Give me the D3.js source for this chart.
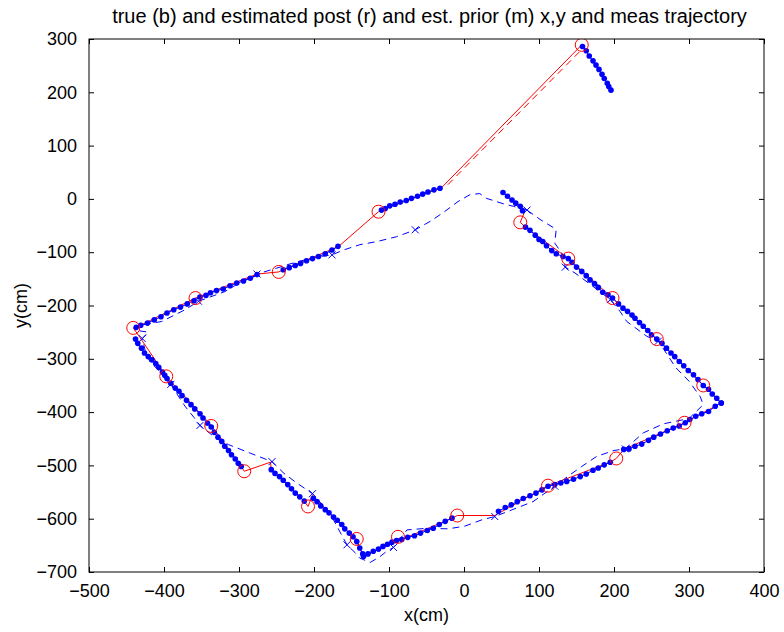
<!DOCTYPE html>
<html>
<head>
<meta charset="utf-8">
<script src="https://cdn.jsdelivr.net/npm/d3@7/dist/d3.min.js"></script>
<style>
  body { margin: 0; background: #fff; }
  svg text { font-family: "Liberation Sans", Arial, Helvetica, sans-serif; fill: #000; }
</style>
</head>
<body>
<svg id="chart" width="784" height="632"></svg>
<script>
// ---- axis ticks ----
const xTicks = [-500, -400, -300, -200, -100, 0, 100, 200, 300, 400];
const yTicks = [-700, -600, -500, -400, -300, -200, -100, 0, 100, 200, 300];

// ---- true trajectory (blue dots), one array per continuous piece ----
const trackStart = [[158,286],[163,278],[167,268],[172,259],[176,251],[180,243],[184,234],[187,226],[191,217],[193,211],[196,204]];
const trackTopA = [[-32,20],[-40,17],[-48,13],[-55,9],[-62,5],[-70,1],[-77,-3],[-85,-6],[-92,-10],[-99,-13],[-105,-18],[-110,-21]];
const trackTopB = [[-168,-89],[-176,-96],[-185,-103],[-194,-108],[-202,-112],[-210,-116],[-218,-121],[-225,-125],[-233,-129],[-241,-133]];
const trackUpperLeft = [[-276,-142],[-285,-149],[-294,-154],[-303,-158],[-312,-163],[-321,-169],[-330,-172],[-338,-176],[-344,-181],[-352,-184],[-360,-191],[-369,-197],[-378,-203],[-387,-208],[-396,-214],[-404,-221],[-413,-227],[-422,-233],[-431,-237],[-437,-241]];
const trackLeft = [[-438,-263],[-435,-271],[-430,-280],[-426,-289],[-421,-296],[-416,-302],[-411,-309],[-407,-316],[-402,-325],[-399,-331],[-396,-337],[-391,-346],[-385,-355],[-380,-361],[-376,-369],[-370,-378],[-364,-386],[-359,-394],[-352,-403],[-348,-411],[-342,-421],[-337,-428],[-333,-438],[-328,-447],[-323,-455],[-319,-464],[-314,-472],[-310,-480],[-305,-488],[-301,-496],[-297,-502]];
const trackLowerLeftA = [[-257,-508],[-252,-515],[-246,-521],[-241,-528],[-235,-536],[-230,-544],[-225,-552],[-219,-559],[-213,-567]];
const trackLowerLeftB = [[-201,-562],[-196,-568],[-191,-576],[-185,-583],[-180,-589],[-174,-597],[-169,-603],[-163,-611],[-159,-619],[-153,-627],[-148,-634],[-143,-643],[-139,-655],[-135,-666],[-134,-671],[-128,-666],[-121,-661],[-114,-657],[-108,-652],[-102,-648],[-96,-644],[-90,-641],[-83,-639],[-75,-635],[-66,-632],[-58,-627],[-49,-622],[-41,-618],[-33,-611],[-25,-605],[-16,-599]];
const trackBottomRight = [[46,-586],[55,-579],[63,-574],[71,-568],[79,-562],[88,-557],[96,-552],[104,-546],[112,-539],[121,-536],[129,-533],[137,-530],[146,-526],[155,-521],[163,-516],[172,-509],[179,-505],[187,-499],[195,-494]];
const trackLowerRight = [[213,-470],[220,-469],[228,-464],[237,-460],[246,-453],[253,-447],[262,-441],[271,-435],[279,-430],[287,-426],[295,-420],[301,-414],[309,-408],[317,-403],[326,-399],[335,-389],[343,-383]];
const trackRight = [[343,-383],[337,-374],[331,-366],[326,-357],[319,-350],[312,-339],[306,-330],[299,-322],[293,-313],[287,-305],[281,-296],[276,-289],[270,-280],[264,-271],[257,-263],[250,-255],[245,-247],[239,-239],[234,-232],[228,-224],[224,-218],[218,-211],[212,-205],[206,-197],[198,-186],[192,-180],[185,-175],[179,-166],[174,-159],[168,-152],[163,-144],[157,-136],[150,-128],[144,-119],[139,-112],[132,-108],[123,-103],[117,-97],[110,-88],[105,-80],[100,-76],[95,-68],[88,-59],[82,-53]];
const trackEnd = [[78,-22],[75,-14],[69,-8],[64,-2],[58,5],[52,12]];
const trueTrack = [trackStart, trackTopA, trackTopB, trackUpperLeft, trackLeft, trackLowerLeftA, trackLowerLeftB, trackBottomRight, trackLowerRight, trackRight, trackEnd];

// ---- estimated posterior (red solid) ----
const postPath = [[157,289],[-30,21],[-110,-21],[-114,-24],[-167,-89],[-241,-133],[-247,-137],[-276,-141],[-358,-186],[-437,-241],[-441,-242],[-434,-256],[-397,-333],[-337,-425],[-297,-502],[-293,-511],[-258,-494],[-257,-508],[-213,-567],[-208,-577],[-202,-556],[-148,-634],[-143,-638],[-139,-655],[-134,-671],[-90,-641],[-88,-637],[-83,-639],[-16,-599],[-9,-594],[41,-594],[112,-538],[195,-494],[203,-487],[213,-470],[294,-420],[343,-383],[319,-350],[257,-263],[198,-186],[139,-112],[82,-53],[75,-44],[80,-27],[78,-22],[52,12]];
// posterior update points (red circles)
const postX = [157,-114,-247,-358,-441,-397,-337,-293,-208,-143,-88,-9,112,203,294,319,257,198,139,75];
const postY = [289,-24,-137,-186,-242,-333,-426,-511,-577,-638,-634,-594,-538,-487,-420,-350,-263,-186,-112,-44];

// ---- estimated prior (red dashed) ----
const priorPath = [[154,276],[-22,26]];

// ---- measurement trajectory (blue dashed) and measurements (x) ----
const measPath = [[84,-21],[66,-14],[52,-9],[39,-3],[30,1],[21,10],[8,8],[-8,-5],[-28,-26],[-45,-42],[-65,-58],[-90,-71],[-116,-80],[-139,-86],[-161,-96],[-176,-105],[-201,-110],[-232,-122],[-250,-130],[-276,-141],[-300,-158],[-319,-174],[-354,-192],[-372,-208],[-403,-230],[-432,-237],[-440,-246],[-421,-250],[-429,-262],[-425,-285],[-419,-305],[-405,-325],[-391,-348],[-372,-389],[-360,-410],[-352,-425],[-330,-450],[-314,-461],[-285,-477],[-256,-493],[-240,-515],[-223,-533],[-202,-553],[-188,-575],[-179,-589],[-168,-618],[-156,-649],[-145,-664],[-139,-674],[-125,-682],[-112,-671],[-103,-661],[-94,-654],[-76,-621],[-49,-618],[-21,-619],[1,-614],[24,-602],[41,-596],[70,-580],[92,-568],[121,-539],[141,-518],[157,-502],[177,-483],[200,-472],[215,-469],[239,-439],[266,-422],[300,-412],[319,-386],[315,-371],[300,-342],[282,-316],[270,-290],[259,-267],[244,-258],[217,-230],[208,-211],[195,-189],[170,-162],[148,-139],[135,-128],[132,-105],[121,-83],[123,-57],[104,-41],[84,-21]];
const measX = [84,-65,-176,-276,-354,-429,-391,-352,-256,-202,-156,-94,41,121,215,259,195,135];
const measY = [-21,-58,-105,-141,-192,-262,-348,-425,-493,-553,-649,-654,-596,-539,-469,-267,-189,-128];

// ---- layout ----
const plot = { left: 89, right: 764, top: 39, bottom: 572 };
const svg = d3.select("#chart");
const x = d3.scaleLinear().domain([-500, 400]).range([plot.left, plot.right]);
const y = d3.scaleLinear().domain([-700, 300]).range([plot.bottom, plot.top]);
const line = d3.line().x(d => x(d[0])).y(d => y(d[1]));

const BLUE = "#0000ff", RED = "#ff0000";

// axes: ticks point inward on all four sides, labels on bottom and left
const fontSize = 18;
const tick = 5;
svg.append("g").attr("transform", `translate(0,${plot.bottom})`)
  .call(d3.axisBottom(x).tickValues(xTicks).tickSizeInner(-tick).tickSizeOuter(0).tickPadding(12).tickFormat(d3.format("d")))
  .call(g => g.select(".domain").remove())
  .call(g => g.selectAll("text").attr("font-size", fontSize).attr("font-family", "Liberation Sans, Arial, sans-serif"));
svg.append("g").attr("transform", `translate(0,${plot.top})`)
  .call(d3.axisTop(x).tickValues(xTicks).tickSizeInner(-tick).tickSizeOuter(0).tickFormat(""))
  .call(g => g.select(".domain").remove());
svg.append("g").attr("transform", `translate(${plot.left},0)`)
  .call(d3.axisLeft(y).tickValues(yTicks).tickSizeInner(-tick).tickSizeOuter(0).tickPadding(12).tickFormat(d3.format("d")))
  .call(g => g.select(".domain").remove())
  .call(g => g.selectAll("text").attr("font-size", fontSize).attr("font-family", "Liberation Sans, Arial, sans-serif"));
svg.append("g").attr("transform", `translate(${plot.right},0)`)
  .call(d3.axisRight(y).tickValues(yTicks).tickSizeInner(-tick).tickSizeOuter(0).tickFormat(""))
  .call(g => g.select(".domain").remove());
svg.selectAll(".tick line").attr("stroke", "#000");

// clip region for data marks
svg.append("clipPath").attr("id", "plotClip").append("rect")
  .attr("x", plot.left).attr("y", plot.top)
  .attr("width", plot.right - plot.left).attr("height", plot.bottom - plot.top);
const marks = svg.append("g").attr("clip-path", "url(#plotClip)");

// measurement trajectory
marks.append("path").datum(measPath).attr("d", line)
  .attr("fill", "none").attr("stroke", BLUE).attr("stroke-width", 1).attr("stroke-dasharray", "7,5");

// estimated prior
marks.append("path").datum(priorPath).attr("d", line)
  .attr("fill", "none").attr("stroke", RED).attr("stroke-width", 1).attr("stroke-dasharray", "7,5");

// estimated posterior
marks.append("path").datum(postPath).attr("d", line)
  .attr("fill", "none").attr("stroke", RED).attr("stroke-width", 1);

// true trajectory: line + dots
trueTrack.forEach(seg => {
  marks.append("path").datum(seg).attr("d", line)
    .attr("fill", "none").attr("stroke", BLUE).attr("stroke-width", 1);
});
marks.append("g").selectAll("circle").data(trueTrack.flat()).join("circle")
  .attr("cx", d => x(d[0])).attr("cy", d => y(d[1])).attr("r", 2.8).attr("fill", BLUE);

// measurements as x markers
const xs = 3.5;
marks.append("g").selectAll("path").data(measX.map((v, i) => [v, measY[i]])).join("path")
  .attr("d", d => {
    const cx = x(d[0]), cy = y(d[1]);
    return `M${cx - xs},${cy - xs}L${cx + xs},${cy + xs}M${cx - xs},${cy + xs}L${cx + xs},${cy - xs}`;
  })
  .attr("stroke", BLUE).attr("stroke-width", 1).attr("fill", "none");

// posterior update circles
marks.append("g").selectAll("circle").data(postX.map((v, i) => [v, postY[i]])).join("circle")
  .attr("cx", d => x(d[0])).attr("cy", d => y(d[1])).attr("r", 6.5)
  .attr("fill", "none").attr("stroke", RED).attr("stroke-width", 1);

// axes box
svg.append("rect").attr("x", plot.left).attr("y", plot.top)
  .attr("width", plot.right - plot.left).attr("height", plot.bottom - plot.top)
  .attr("fill", "none").attr("stroke", "#000").attr("stroke-width", 1);

// title and axis labels
svg.append("text").attr("x", (plot.left + plot.right) / 2 + 3).attr("y", 23)
  .attr("text-anchor", "middle").attr("font-size", 20)
  .text("true (b) and estimated post (r) and est. prior (m) x,y and meas trajectory");
svg.append("text").attr("x", (plot.left + plot.right) / 2).attr("y", 621)
  .attr("text-anchor", "middle").attr("font-size", fontSize).text("x(cm)");
svg.append("text").attr("transform", `translate(27,${(plot.top + plot.bottom) / 2}) rotate(-90)`)
  .attr("text-anchor", "middle").attr("font-size", fontSize).text("y(cm)");
</script>
</body>
</html>
